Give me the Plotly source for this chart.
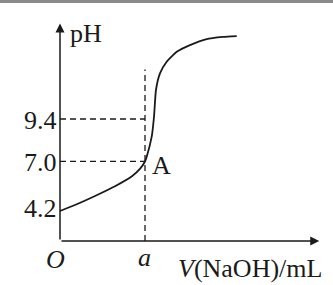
import plotly.graph_objects as go

# Data (schematic titration curve, x in units of "a")
vol = [0.0, 0.176, 0.412, 0.647, 0.85, 0.94, 1.0, 1.02, 1.079, 1.106, 1.129, 1.176, 1.255, 1.373, 1.529, 1.725, 1.918, 2.079]
ph = [4.2, 4.54, 5.05, 5.60, 6.18, 6.58, 7.0, 7.27, 8.40, 9.53, 11.04, 11.98, 12.64, 13.2, 13.58, 13.92, 14.04, 14.09]
tick_vals = [9.4, 7.0, 4.2]
tick_text = ["9.4", "7.0", "4.2"]
a_val = 1.0
x_axis_y = 2.5
x_max = 3.05
y_max = 14.8
dash_top = 12.2

font = "Liberation Serif, Times New Roman, serif"
ink = "#1a1a1a"

fig = go.Figure()
fig.add_trace(go.Scatter(x=vol, y=ph, mode="lines", line=dict(color=ink, width=1.8, shape="spline", smoothing=0.5),
                         hoverinfo="skip", showlegend=False))

shapes = []
# dashed guides
for v in tick_vals[:2]:
    shapes.append(dict(type="line", x0=0, x1=a_val, y0=v, y1=v, xref="x", yref="y",
                       line=dict(color=ink, width=1.3, dash="6px,4px")))
shapes.append(dict(type="line", x0=a_val, x1=a_val, y0=x_axis_y, y1=dash_top, xref="x", yref="y",
                   line=dict(color=ink, width=1.3, dash="6px,4px")))
# top gray border
shapes.append(dict(type="line", x0=0, x1=1, y0=0.995, y1=0.995, xref="paper", yref="paper",
                   line=dict(color="#8a8a8a", width=3)))

annotations = []
# axes with arrows
annotations.append(dict(x=0, y=y_max, ax=0, ay=x_axis_y, xref="x", yref="y", axref="x", ayref="y",
                        showarrow=True, arrowhead=2, arrowsize=1.2, arrowwidth=1.5, arrowcolor=ink, text=""))
annotations.append(dict(x=x_max, y=x_axis_y, ax=0, ay=x_axis_y, xref="x", yref="y", axref="x", ayref="y",
                        showarrow=True, arrowhead=2, arrowsize=1.2, arrowwidth=1.5, arrowcolor=ink, text=""))
for v, t in zip(tick_vals, tick_text):
    annotations.append(dict(x=0, y=v, xref="x", yref="y", text=t, showarrow=False, xanchor="right",
                            xshift=-1, yshift=-1 if v != 4.2 else 3, font=dict(family=font, size=26, color=ink)))
annotations.append(dict(x=0, y=y_max, xref="x", yref="y", text="pH", showarrow=False, xanchor="left",
                        xshift=8, yshift=-10, font=dict(family=font, size=26, color=ink)))
annotations.append(dict(x=0, y=x_axis_y, xref="x", yref="y", text="<i>O</i>", showarrow=False,
                        xanchor="center", yanchor="top", xshift=-5, yshift=-2, font=dict(family=font, size=26, color=ink)))
annotations.append(dict(x=a_val, y=x_axis_y, xref="x", yref="y", text="<i>a</i>", showarrow=False,
                        xanchor="center", yanchor="top", xshift=-1, yshift=0, font=dict(family=font, size=26, color=ink)))
annotations.append(dict(x=a_val, y=7.0, xref="x", yref="y", text="A", showarrow=False,
                        xanchor="left", xshift=5, yshift=-4, font=dict(family=font, size=26, color=ink)))
annotations.append(dict(x=1, y=0, xref="paper", yref="paper", text="<i>V</i>(NaOH)/mL", showarrow=False,
                        xanchor="right", yanchor="bottom", xshift=-9, yshift=0, font=dict(family=font, size=26, color=ink)))

fig.update_layout(
    width=333, height=285, margin=dict(l=0, r=0, t=0, b=0),
    paper_bgcolor="white", plot_bgcolor="white",
    xaxis=dict(range=[-0.706, 3.212], visible=False, fixedrange=True),
    yaxis=dict(range=[0.017, 16.128], visible=False, fixedrange=True),
    shapes=shapes, annotations=annotations, showlegend=False,
)
fig.write_html("out.html")
